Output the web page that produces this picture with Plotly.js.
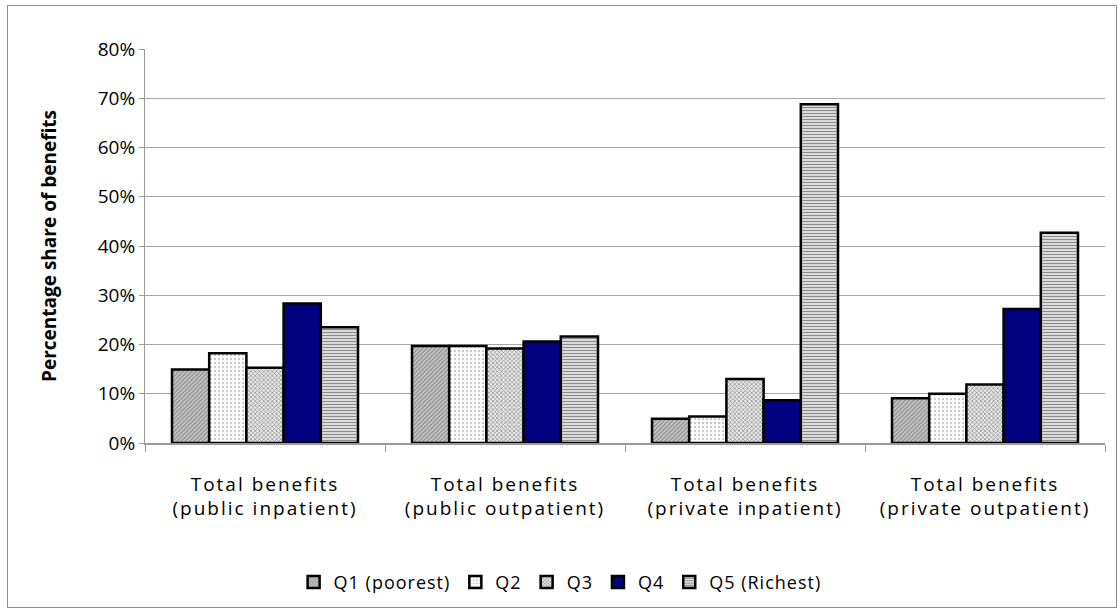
<!DOCTYPE html>
<html>
<head>
<meta charset="utf-8">
<script src="https://cdn.plot.ly/plotly-3.0.1.min.js"></script>
<style>
  html, body { margin: 0; padding: 0; background: #fff; }
  #wrap { position: relative; width: 1118px; height: 609px; }
  #chart { width: 1118px; height: 609px; }
  #frame { position: absolute; left: 7px; top: 5px; width: 1110px; height: 603px; border: 1px solid #8c8c8c; box-sizing: border-box; pointer-events: none; }
  #chart .xtick text { letter-spacing: 2px; }
  .legendtext { letter-spacing: 1px; }
</style>
</head>
<body>
<div id="wrap"><div id="chart"></div><div id="frame"></div></div>
<script>
const categories = [
  "Total benefits<br>(public inpatient)",
  "Total benefits<br>(public outpatient)",
  "Total benefits<br>(private inpatient)",
  "Total benefits<br>(private outpatient)"
];
const seriesNames = ["Q1 (poorest)", "Q2", "Q3", "Q4", "Q5 (Richest)"];
const q1 = [14.9, 19.7, 4.9, 9.1];
const q2 = [18.2, 19.7, 5.4, 10.0];
const q3 = [15.3, 19.2, 13.0, 11.9];
const q4 = [28.3, 20.6, 8.7, 27.2];
const q5 = [23.5, 21.6, 68.8, 42.7];
const yTickVals = [0, 10, 20, 30, 40, 50, 60, 70, 80];

const seriesValues = [q1, q2, q3, q4, q5];
const styles = [
  {color: "#bdbdbd", pattern: {shape: "/", fgcolor: "#8a8a8a", bgcolor: "#c8c8c8", size: 3, solidity: 0.4}},
  {color: "#ffffff", pattern: {shape: ".", fgcolor: "#c8c8c8", bgcolor: "#ffffff", size: 4, solidity: 0.25}},
  {color: "#d0d0d0", pattern: {shape: "x", fgcolor: "#8a8a8a", bgcolor: "#e8e8e8", size: 3, solidity: 0.4}},
  {color: "#000080"},
  {color: "#c8c8c8", pattern: {shape: "-", fgcolor: "#8c8c8c", bgcolor: "#e2e2e2", size: 3, solidity: 0.4}}
];

const traces = seriesNames.map((name, i) => ({
  type: "bar",
  name: name,
  x: categories,
  y: seriesValues[i],
  marker: Object.assign({line: {color: "#000000", width: 2.5}}, styles[i]),
  hoverinfo: "x+y+name"
}));

const layout = {
  width: 1118,
  height: 609,
  margin: {l: 145, r: 13, t: 49, b: 166},
  paper_bgcolor: "#ffffff",
  plot_bgcolor: "#ffffff",
  font: {family: "Open Sans, sans-serif", size: 18, color: "#000000"},
  barmode: "group",
  bargap: 0.225,
  bargroupgap: 0,
  showlegend: true,
  legend: {
    orientation: "h",
    xref: "container", yref: "container",
    x: 0.501, xanchor: "center",
    y: 0.044, yanchor: "middle",
    font: {family: "Open Sans, sans-serif", size: 18, color: "#000"},
    itemwidth: 30,
    tracegroupgap: 0
  },
  xaxis: {
    type: "category",
    automargin: false,
    showline: true,
    linecolor: "#9a9a9a",
    linewidth: 1.5,
    ticks: "outside",
    tickson: "boundaries",
    ticklen: 7,
    tickcolor: "#9a9a9a",
    ticklabelstandoff: 23,
    tickfont: {family: "Open Sans, sans-serif", size: 19, color: "#000"},
    showgrid: false,
    zeroline: false
  },
  yaxis: {
    range: [0, 80],
    automargin: false,
    tickvals: yTickVals,
    ticktext: yTickVals.map(v => v + "%"),
    showline: true,
    linecolor: "#9a9a9a",
    linewidth: 1,
    ticks: "outside",
    ticklen: 5,
    tickcolor: "#9a9a9a",
    showgrid: true,
    gridcolor: "#a6a6a6",
    gridwidth: 1,
    zeroline: false,
    tickfont: {family: "Open Sans, sans-serif", size: 19, color: "#000"},
    title: {
      text: "<b>Percentage share of benefits</b>",
      font: {family: "Open Sans, sans-serif", size: 19, color: "#000"},
      standoff: 36
    }
  }
};

Plotly.newPlot("chart", traces, layout, {displayModeBar: false});
</script>
</body>
</html>
